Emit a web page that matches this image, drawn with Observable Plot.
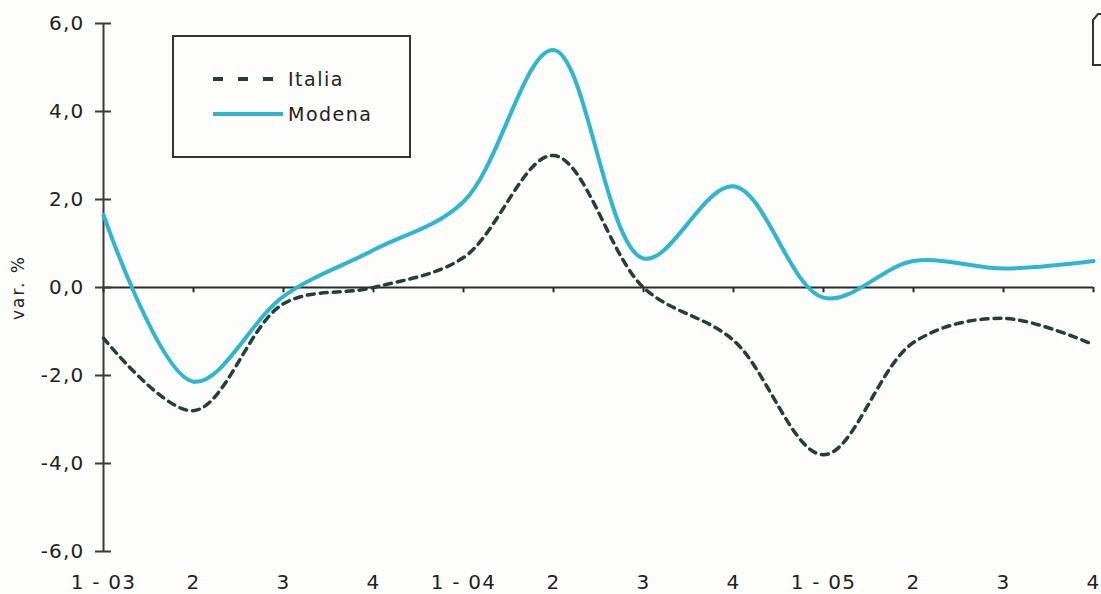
<!DOCTYPE html>
<html>
<head>
<meta charset="utf-8">
<script src="https://cdn.jsdelivr.net/npm/d3@7"></script>
<script src="https://cdn.jsdelivr.net/npm/@observablehq/plot@0.6"></script>
<style>
  html, body { margin: 0; padding: 0; background: #fdfdfb; }
  #wrap { position: relative; width: 1101px; height: 594px; overflow: hidden; }
  #chart svg g[aria-label="x-axis tick label"] { font-size: 20px; letter-spacing: 1.2px; }
  #chart svg g[aria-label="y-axis tick label"] { font-size: 20px; letter-spacing: 1.2px; }
  #chart svg g[aria-label="text"] { font-size: 17px; letter-spacing: 2px; }
</style>
</head>
<body>
<div id="wrap">
  <div id="chart"></div>
  <svg id="legend-svg" style="position:absolute;left:0;top:0" width="1101" height="594"></svg>
</div>
<script>
// Quarterly change (%), 2003–2005
const quarters = ["1 - 03", "2", "3", "4", "1 - 04", "2", "3", "4", "1 - 05", "2", "3", "4"];
const italia = [-1.15, -2.8, -0.37, 0.0, 0.68, 3.0, 0.0, -1.2, -3.8, -1.25, -0.7, -1.3];
const modena = [1.65, -2.14, -0.2, 0.85, 1.95, 5.4, 0.66, 2.3, -0.23, 0.6, 0.43, 0.6];
const yTicks = [-6, -4, -2, 0, 2, 4, 6];

const seriesNames = ["Italia", "Modena"];
const seriesColors = ["#243f39", "#2fb5d0"];

const idx = quarters.map((_, i) => i);
const rowsItalia = idx.map(i => ({i, v: italia[i]}));
const rowsModena = idx.map(i => ({i, v: modena[i]}));

const fmt = d => d.toFixed(1).replace(".", ",");
const FONT = "'DejaVu Sans', Verdana, sans-serif";

const chart = Plot.plot({
  width: 1101,
  height: 594,
  marginTop: 23,
  marginBottom: 43,
  marginLeft: 103,
  marginRight: 8,
  x: {domain: [0, quarters.length - 1]},
  y: {domain: [-6, 6]},
  style: {
    fontFamily: FONT,
    fontSize: "19px",
    color: "#222",
    background: "#fdfdfb"
  },
  marks: [
    // vertical value axis line
    Plot.ruleX([0], {stroke: "#3a3a3a", strokeWidth: 2}),
    // zero baseline with small quarter ticks
    Plot.ruleY([0], {stroke: "#2a2a2a", strokeWidth: 2}),
    Plot.ruleX(idx, {x: d => d, y1: 0, y2: -0.12, stroke: "#2a2a2a", strokeWidth: 2}),
    Plot.axisY(yTicks, {
      tickSize: 16, dx: 8, tickPadding: 11,
      tickFormat: fmt, label: null,
      stroke: "#3a3a3a", strokeWidth: 2, fill: "#222"
    }),
    Plot.axisX(idx, {
      anchor: "bottom", tickSize: 0, tickPadding: 23,
      tickFormat: i => quarters[i], label: null, fill: "#222"
    }),
    Plot.text(["var. %"], {
      frameAnchor: "left", dx: -85, rotate: -90, textAnchor: "middle", fill: "#222"
    }),
    Plot.line(rowsItalia, {
      x: "i", y: "v", curve: "catmull-rom",
      stroke: seriesColors[0], strokeWidth: 3.5, strokeDasharray: "7,6"
    }),
    Plot.line(rowsModena, {
      x: "i", y: "v", curve: "catmull-rom",
      stroke: seriesColors[1], strokeWidth: 4
    })
  ]
});
document.getElementById("chart").appendChild(chart);

// Legend box and the clipped panel edge at the top right
const svg = d3.select("#legend-svg");
svg.append("rect")
  .attr("x", 173).attr("y", 36).attr("width", 237).attr("height", 121)
  .attr("fill", "#fdfdfb").attr("stroke", "#333").attr("stroke-width", 2);
const items = [
  {name: seriesNames[0], color: seriesColors[0], y: 79, dash: "10,15", x2: 273, w: 4},
  {name: seriesNames[1], color: seriesColors[1], y: 114, dash: null, x2: 283, w: 4}
];
items.forEach(it => {
  const l = svg.append("line")
    .attr("x1", 213).attr("x2", it.x2).attr("y1", it.y).attr("y2", it.y)
    .attr("stroke", it.color).attr("stroke-width", it.w);
  if (it.dash) l.attr("stroke-dasharray", it.dash);
  svg.append("text")
    .attr("x", 288).attr("y", it.y + 7)
    .attr("font-family", FONT)
    .attr("font-size", 19).attr("letter-spacing", "1.5px")
    .attr("fill", "#222").text(it.name);
});
svg.append("path")
  .attr("d", "M1103,14 L1098,14 L1093,20 L1093,65 L1103,65")
  .attr("fill", "none").attr("stroke", "#333").attr("stroke-width", 2);
</script>
</body>
</html>
